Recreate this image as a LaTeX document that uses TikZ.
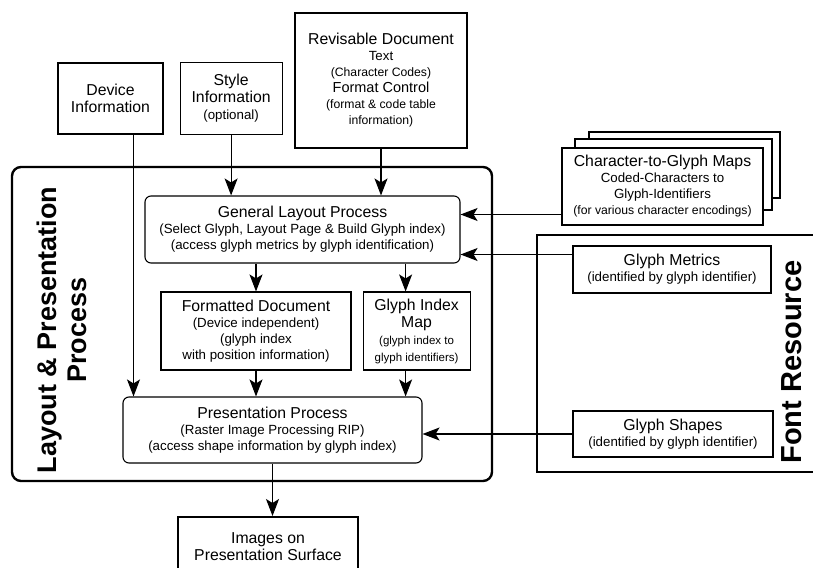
\documentclass[tikz,border=0pt]{standalone}
\usepackage{fontspec}
\setmainfont{Liberation Sans}
\usetikzlibrary{arrows.meta,positioning}

\newcommand{\bigtxt}{\fontsize{15.8}{17}\selectfont}
\newcommand{\midtxt}{\fontsize{13.3}{16}\selectfont}
\newcommand{\smalltxt}{\fontsize{12.2}{14}\selectfont}
\newcommand{\tinytxt}{\fontsize{11.5}{13}\selectfont}
\newcommand{\sidetxt}{\fontsize{27}{30}\selectfont\bfseries}

\tikzset{
  box/.style={draw,line width=1.1pt,align=center,inner sep=2pt,fill=white},
  thickbox/.style={box,line width=2pt},
  proc/.style={box,rounded corners=6pt},
  frame/.style={draw,line width=2.4pt},
  sidelabel/.style={rotate=90,align=center,font=\sidetxt},
  link/.style={draw,line width=1.1pt,-{Stealth[length=17pt,width=13pt,inset=4pt]}},
}

\begin{document}
\begin{tikzpicture}[x=1pt,y=-1pt,semithick]
        \useasboundingbox (0,0) rectangle (813,567);
        \clip (0,0) rectangle (813,567);

        % the two frames
        \draw[frame,rounded corners=9pt] (12,167) rectangle (492,481);
        \draw[frame] (830,235) -- (537,235) -- (537,472) -- (830,472);
        \node[sidelabel] (lpp) at (62,330) {Layout \& Presentation\\Process};
        \node[sidelabel,font=\fontsize{29}{32}\selectfont\bfseries] (font) at (792,362) {Font Resource};

        % inputs
        \node[box,minimum width=105pt,minimum height=71pt,font=\bigtxt] (dev) at (110.5,98.5) {Device\\Information};
        \node[box,minimum width=102pt,minimum height=72pt,font=\bigtxt,right=16pt of dev] (style) {Style\\Information\\{\midtxt (optional)}};
        \node[thickbox,minimum width=172pt,minimum height=135pt,font=\midtxt] (rev) at (381,80.5)
            {{\bigtxt Revisable Document}\\Text\\{\smalltxt (Character Codes)}\\{\fontsize{14.5}{16}\selectfont Format Control}\\{\smalltxt (format \& code table}\\{\smalltxt information)}};

        % layout & presentation
        \node[proc,minimum width=315pt,minimum height=67pt,font=\midtxt] (glp) at (302.5,229.5)
            {{\bigtxt General Layout Process}\\(Select Glyph, Layout Page \& Build Glyph index)\\(access glyph metrics by glyph identification)};
        \node[box,minimum width=190pt,minimum height=78pt,font=\midtxt] (fd) at (256,331)
            {{\bigtxt Formatted Document}\\(Device independent)\\(glyph index\\with position information)};
        \node[box,minimum width=107pt,minimum height=78pt,font=\bigtxt,right=11pt of fd] (gim)
            {Glyph Index\\Map\\{\tinytxt (glyph index to}\\{\tinytxt glyph identifiers)}};
        \node[proc,minimum width=299pt,minimum height=66pt,font=\midtxt] (pres) at (272.5,430)
            {{\bigtxt Presentation Process}\\(Raster Image Processing RIP)\\(access shape information by glyph index)};
        \node[thickbox,minimum width=180pt,minimum height=60pt,font=\bigtxt] (img) at (268,547) {Images on\\Presentation Surface};

        % font resource
        \draw[box] (589,132) rectangle (780,198);
        \draw[box] (575,139) rectangle (772,210);
        \node[box,minimum width=201pt,minimum height=77pt,font=\midtxt] (maps) at (662.5,186.5)
            {{\bigtxt Character-to-Glyph Maps}\\Coded-Characters to\\Glyph-Identifiers\\{\smalltxt (for various character encodings)}};
        \node[box,minimum width=198pt,minimum height=47pt,font=\midtxt] (met) at (672,269.5)
            {{\bigtxt Glyph Metrics}\\(identified by glyph identifier)};
        \node[box,minimum width=200pt,minimum height=46pt,font=\midtxt] (shp) at (673,434)
            {{\bigtxt Glyph Shapes}\\(identified by glyph identifier)};

        \path[every edge/.style=link]
            (style.south) edge (style.south |- glp.north)
            (rev.south) edge (rev.south |- glp.north)
            ([xshift=23pt]dev.south) edge ([xshift=23pt]dev.south |- pres.north)
            (fd.north |- glp.south) edge (fd.north)
            ([xshift=-11pt]gim.north |- glp.south) edge ([xshift=-11pt]gim.north)
            (fd.south) edge (fd.south |- pres.north)
            ([xshift=-11pt]gim.south) edge ([xshift=-11pt]gim.south |- pres.north)
            (pres.south) edge (pres.south |- img.north)
            ([yshift=-28pt]maps.west) edge ([yshift=-28pt]maps.west -| glp.east)
            ([yshift=15pt]met.west) edge ([yshift=15pt]met.west -| glp.east)
            (shp.west) edge (shp.west -| pres.east);
\end{tikzpicture}
\end{document}
